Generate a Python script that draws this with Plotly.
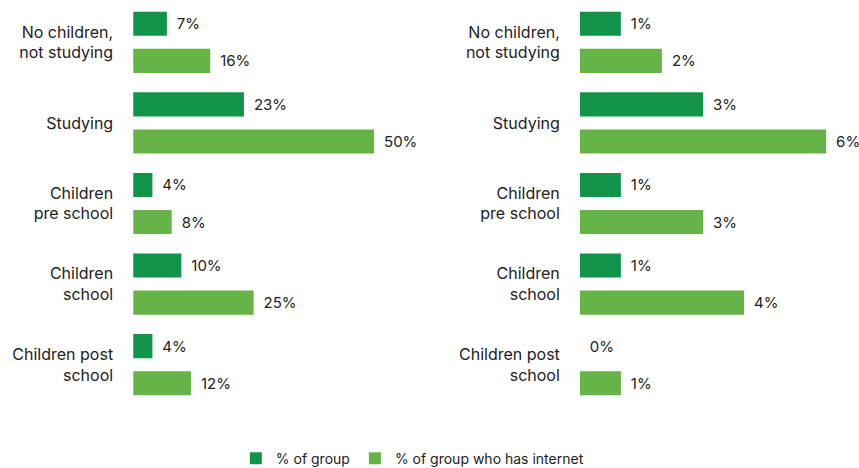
import plotly.graph_objects as go
from plotly.subplots import make_subplots

categories = [
    "No children,<br>not studying",
    "Studying",
    "Children<br>pre school",
    "Children<br>school",
    "Children post<br>school",
]

# left panel
left_group = [7, 23, 4, 10, 4]
left_internet = [16, 50, 8, 25, 12]

# right panel
right_group = [1, 3, 1, 1, 0]
right_internet = [2, 6, 3, 4, 1]

series_names = ["% of group", "% of group who has internet"]
DARK = "#11944A"
LIGHT = "#66B447"
TEXT = "#222222"
FONT = "Inter, Roboto, sans-serif"

fig = make_subplots(rows=1, cols=2, horizontal_spacing=0.0)

panels = [(left_group, left_internet, 1), (right_group, right_internet, 2)]
for g_vals, i_vals, col in panels:
    for vals, name, color in [(g_vals, series_names[0], DARK), (i_vals, series_names[1], LIGHT)]:
        fig.add_trace(
            go.Bar(
                y=categories,
                x=vals,
                orientation="h",
                name=name,
                marker=dict(color=color, line=dict(width=0)),
                text=[f"{v}%" for v in vals],
                texttemplate=" \u2009%{text}",
                textposition="outside",
                textfont=dict(family=FONT, size=15, color=TEXT),
                cliponaxis=False,
                showlegend=(col == 1),
                hoverinfo="skip",
            ),
            row=1,
            col=col,
        )

fig.update_layout(
    width=859,
    height=468,
    margin=dict(l=0, r=0, t=2, b=63, autoexpand=False),
    paper_bgcolor="white",
    plot_bgcolor="white",
    barmode="group",
    bargap=0.08,
    bargroupgap=0.35,
    font=dict(family=FONT, size=15, color=TEXT),
    legend=dict(
        orientation="h",
        x=0.48,
        xanchor="center",
        y=-0.133,
        yanchor="middle",
        font=dict(family=FONT, size=14, color=TEXT),
        itemwidth=30,
        traceorder="normal",
    ),
    xaxis=dict(domain=[0.155, 0.5], range=[0, 61.5], visible=False),
    xaxis2=dict(domain=[0.675, 1.0], range=[0, 6.8], visible=False),
)

for ax in ["yaxis", "yaxis2"]:
    fig.layout[ax].update(
        categoryorder="array",
        categoryarray=categories,
        range=[4.5, -0.5],
        showgrid=False,
        zeroline=False,
        showline=False,
        ticks="",
        ticklabelstandoff=19,
        tickfont=dict(family=FONT, size=16, color=TEXT),
    )

fig.write_html("out.html")
